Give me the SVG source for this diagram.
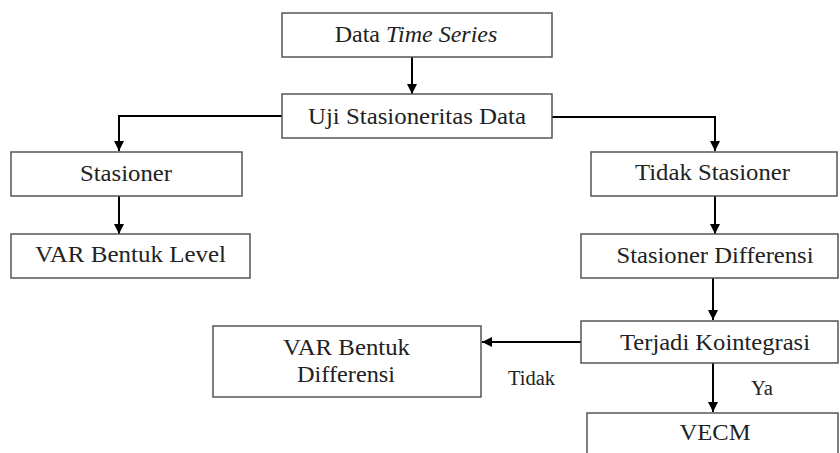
<svg xmlns="http://www.w3.org/2000/svg" width="840" height="453" viewBox="0 0 840 453">
<defs>
<marker id="ah" viewBox="0 0 10 10" refX="10" refY="5" markerWidth="10" markerHeight="11" markerUnits="userSpaceOnUse" orient="auto">
<path d="M0,0 L10,5 L0,10 Z" fill="#000"/>
</marker>
<style>
.box{fill:#fff;stroke:#555;stroke-width:1.5}
.t{font-size:24px;fill:#222;text-anchor:middle}
.s{font-size:20px;fill:#222}
.c{fill:none;stroke:#000;stroke-width:2;marker-end:url(#ah)}
</style>
</defs>
<rect width="840" height="453" fill="#fff"/>
<g id="connectors">
<path class="c" d="M412,57 V94"/>
<path class="c" d="M282,116 H119 V151"/>
<path class="c" d="M552,117 H715 V151"/>
<path class="c" d="M119,196 V234"/>
<path class="c" d="M715,196 V234"/>
<path class="c" d="M713,278 V320"/>
<path class="c" d="M581,342 H482"/>
<path class="c" d="M713,363 V412"/>
</g>
<g font-family="Liberation Serif, Times New Roman, serif">
<g id="n-data">
<rect class="box" x="282" y="13" width="270" height="44"/>
<text class="t" x="416" y="42"><tspan>Data </tspan><tspan font-style="italic">Time Series</tspan></text>
</g>
<g id="n-uji">
<rect class="box" x="282" y="94" width="270" height="44"/>
<text class="t" x="417" y="124" textLength="218" lengthAdjust="spacingAndGlyphs">Uji Stasioneritas Data</text>
</g>
<g id="n-stasioner">
<rect class="box" x="11" y="152" width="231" height="44"/>
<text class="t" x="126" y="181" textLength="92" lengthAdjust="spacingAndGlyphs">Stasioner</text>
</g>
<g id="n-varlevel">
<rect class="box" x="11" y="234" width="239" height="44"/>
<text class="t" x="130.5" y="262" textLength="191" lengthAdjust="spacingAndGlyphs">VAR Bentuk Level</text>
</g>
<g id="n-tidakstasioner">
<rect class="box" x="591" y="152" width="246" height="44"/>
<text class="t" x="712.5" y="180" textLength="155" lengthAdjust="spacingAndGlyphs">Tidak Stasioner</text>
</g>
<g id="n-stasionerdiff">
<rect class="box" x="581" y="234" width="257" height="44"/>
<text class="t" x="715" y="263" textLength="197" lengthAdjust="spacingAndGlyphs">Stasioner Differensi</text>
</g>
<g id="n-kointegrasi">
<rect class="box" x="581" y="321" width="257" height="42"/>
<text class="t" x="715" y="350" textLength="190" lengthAdjust="spacingAndGlyphs">Terjadi Kointegrasi</text>
</g>
<g id="n-vardiff">
<rect class="box" x="213" y="326" width="268" height="71"/>
<text class="t" x="346.5" y="355" textLength="127" lengthAdjust="spacingAndGlyphs">VAR Bentuk</text>
<text class="t" x="346" y="382" textLength="98" lengthAdjust="spacingAndGlyphs">Differensi</text>
</g>
<g id="n-vecm">
<rect class="box" x="587" y="413" width="251" height="50"/>
<text class="t" x="715" y="440" textLength="71" lengthAdjust="spacingAndGlyphs">VECM</text>
</g>
<g id="labels">
<text class="s" x="508" y="385" textLength="47" lengthAdjust="spacingAndGlyphs">Tidak</text>
<text class="s" x="751" y="395" textLength="22" lengthAdjust="spacingAndGlyphs">Ya</text>
</g>
</g>
</svg>
